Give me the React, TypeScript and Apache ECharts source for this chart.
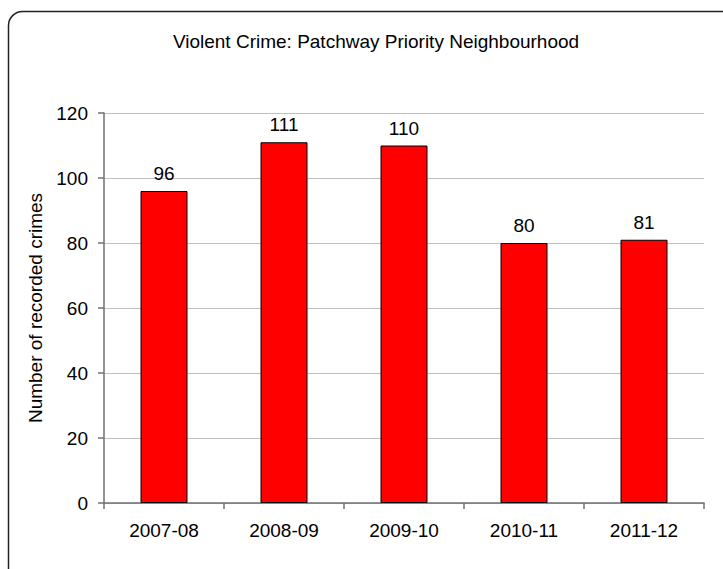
import React, { useEffect, useRef } from "react";
import * as echarts from "echarts";

const categories = ["2007-08", "2008-09", "2009-10", "2010-11", "2011-12"];
const crimes = [96, 111, 110, 80, 81];
const titleText = "Violent Crime: Patchway Priority Neighbourhood";
const yAxisTitle = "Number of recorded crimes";

const FONT = "'Liberation Sans', Arial, sans-serif";

export default function App() {
  const ref = useRef<HTMLDivElement>(null);
  useEffect(() => {
    if (!ref.current) return;
    const chart = echarts.init(ref.current, null, { renderer: "svg" });
    chart.setOption({
      animation: false,
      backgroundColor: "#ffffff",
      textStyle: { fontFamily: FONT },
      title: {
        text: titleText,
        left: 371,
        top: 27,
        textAlign: "center",
        textStyle: { fontFamily: FONT, fontSize: 19, fontWeight: "normal", color: "#000" },
      },
      graphic: [
        {
          type: "rect",
          shape: { x: 8.5, y: 11.5, width: 740, height: 580, r: 14 },
          style: { fill: "none", stroke: "#222", lineWidth: 1.5 },
          silent: true,
        },
      ],
      grid: { left: 104, right: 19, top: 113, bottom: 66, containLabel: false },
      xAxis: {
        type: "category",
        data: categories,
        boundaryGap: true,
        axisLine: { show: true, lineStyle: { color: "#707070", width: 1.5 } },
        axisTick: { show: true, length: 6, inside: false, lineStyle: { color: "#707070", width: 1.5 } },
        axisLabel: { margin: 18, fontSize: 19, color: "#000", fontFamily: FONT },
        splitLine: { show: false },
      },
      yAxis: {
        type: "value",
        min: 0,
        max: 120,
        interval: 20,
        name: yAxisTitle,
        nameLocation: "middle",
        nameGap: 58,
        nameTextStyle: { fontSize: 19, color: "#000", fontFamily: FONT },
        axisLine: { show: true, lineStyle: { color: "#707070", width: 1.5 } },
        axisTick: { show: true, length: 6, inside: false, lineStyle: { color: "#707070", width: 1.5 } },
        axisLabel: { margin: 16, fontSize: 19, color: "#000", fontFamily: FONT },
        splitLine: { show: true, lineStyle: { color: "#c0c0c0", width: 1 } },
      },
      series: [
        {
          type: "bar",
          data: crimes,
          barWidth: 47,
          itemStyle: { color: "#ff0000", borderColor: "#000", borderWidth: 1 },
          label: {
            show: true,
            position: "top",
            distance: 8,
            fontSize: 19,
            color: "#000",
            fontFamily: FONT,
          },
        },
      ],
    });
    return () => chart.dispose();
  }, []);
  return <div ref={ref} style={{ width: 723, height: 569, position: "absolute", left: 0, top: 0 }} />;
}
